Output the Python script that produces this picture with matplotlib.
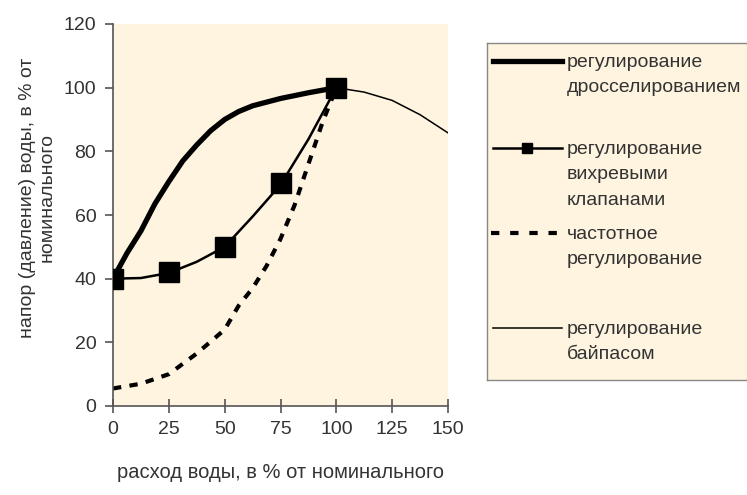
import matplotlib
matplotlib.use("Agg")
import matplotlib.pyplot as plt

plt.rcParams['font.family'] = ['Liberation Sans', 'DejaVu Sans']

# data (% of nominal)
x_throttle = [0, 6.25, 12.5, 18.75, 25, 31.25, 37.5, 43.75, 50, 56.25, 62.5, 75, 87.5, 100]
y_throttle = [40, 48, 55, 63.5, 70.5, 77, 82, 86.5, 90, 92.5, 94.3, 96.6, 98.4, 100]

x_vortex_line = [0, 12.5, 25, 37.5, 50, 62.5, 75, 87.5, 100]
y_vortex_line = [40, 40.2, 41.8, 45.3, 50, 59.5, 69.5, 83.8, 100]
x_vortex_pts = [0, 25, 50, 75, 100]
y_vortex_pts = [40, 42, 50, 70, 100]

x_freq = [0, 12.5, 25, 37.5, 50, 56.25, 62.5, 68.75, 75, 81.25, 87.5, 93.75, 100]
y_freq = [5.5, 7, 10, 16.5, 24, 31.5, 37, 44, 52.5, 63, 76, 89, 100]

x_bypass = [100, 112.5, 125, 137.5, 150]
y_bypass = [100, 98.6, 96, 91.5, 85.8]

labels = ["регулирование\nдросселированием",
          "регулирование\nвихревыми\nклапанами",
          "частотное\nрегулирование",
          "регулирование\nбайпасом"]

cream = '#FEF4DF'
txt = '#333333'
fs = 14

fig = plt.figure(figsize=(7.47, 4.95), dpi=100)
ax = fig.add_axes([113 / 747, 1 - 406 / 495, 335 / 747, 382 / 495])
ax.set_facecolor(cream)

ax.plot(x_bypass, y_bypass, color='black', lw=1.1, zorder=2)
ax.plot(x_freq, y_freq, color='black', lw=3, linestyle=(0, (2, 2)), zorder=2)
ax.plot(x_throttle, y_throttle, color='black', lw=3.8, solid_capstyle='round',
        solid_joinstyle='round', zorder=3)
ax.plot(x_vortex_line, y_vortex_line, color='black', lw=1.8, solid_joinstyle='round', zorder=3)
ax.plot(x_vortex_pts, y_vortex_pts, 's', color='black', markersize=15, zorder=4)

ax.set_xlim(0, 150)
ax.set_ylim(0, 120)
ax.set_xticks([0, 25, 50, 75, 100, 125, 150])
ax.set_yticks([0, 20, 40, 60, 80, 100, 120])
for s in ['top', 'right']:
    ax.spines[s].set_visible(False)
for s in ['left', 'bottom']:
    ax.spines[s].set_color('#555555')
    ax.spines[s].set_linewidth(1.2)
ax.tick_params(axis='x', direction='inout', length=10, width=1.2, color='#555555',
               labelsize=fs, labelcolor=txt, pad=6)
ax.tick_params(axis='y', direction='out', length=6, width=1.2, color='#555555',
               labelsize=fs, labelcolor=txt, pad=6)
for lab in ax.get_xticklabels() + ax.get_yticklabels():
    lab.set_clip_on(False)

ax.set_xlabel("расход воды, в % от номинального", fontsize=14.5, color=txt, labelpad=18)
fig.text(37 / 747, 1 - 198 / 495, "напор (давление) воды, в % от\nноминального",
         rotation=90, ha='center', va='center', fontsize=fs, color=txt,
         linespacing=1.2, multialignment='center')

# legend box (right border runs past the picture edge, as in the original)
lax = fig.add_axes([487 / 747, 1 - 380 / 495, 270 / 747, 337 / 495])
lax.set_xlim(0, 270)
lax.set_ylim(337, 0)
lax.set_facecolor(cream)
lax.set_xticks([])
lax.set_yticks([])
for s in lax.spines.values():
    s.set_color('#888888')
    s.set_linewidth(1.0)

entry_y = [18, 105, 190, 285]
lax.plot([6, 75], [entry_y[0]] * 2, color='black', lw=3.8)
lax.plot([6, 75], [entry_y[1]] * 2, color='black', lw=1.8)
lax.plot([40], [entry_y[1]], 's', color='black', markersize=7)
lax.plot([4, 75], [entry_y[2]] * 2, color='black', lw=3, linestyle=(0, (2, 2.6)))
lax.plot([6, 75], [entry_y[3]] * 2, color='black', lw=1.1)
for yy, lab in zip(entry_y, labels):
    lax.text(80, yy - 7, lab, fontsize=fs, color=txt, va='top', ha='left',
             linespacing=1.65)

fig.savefig("out.png", dpi=100)
